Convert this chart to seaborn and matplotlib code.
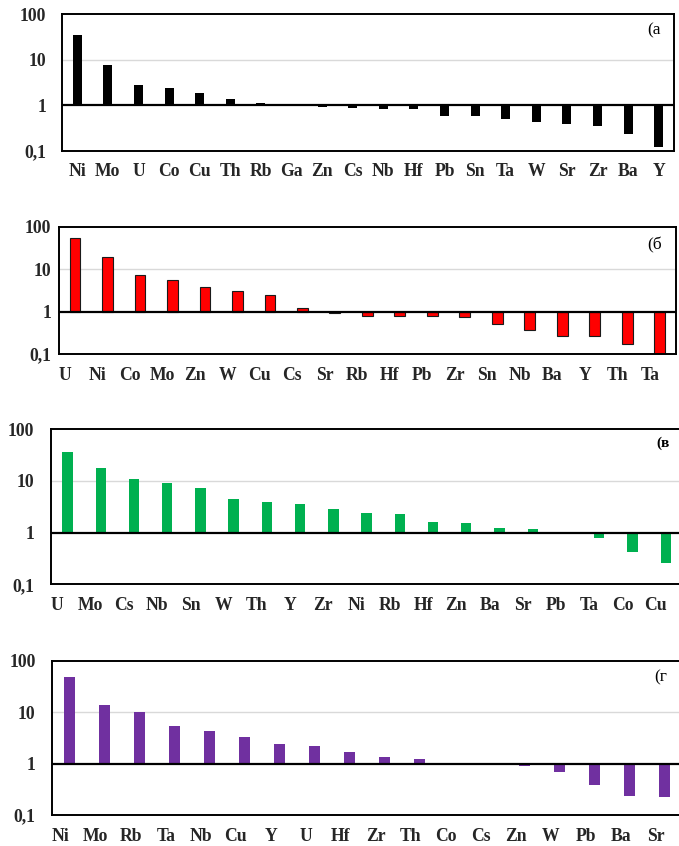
import numpy as np
import pandas as pd
import matplotlib
matplotlib.use("Agg")
import matplotlib.pyplot as plt
import matplotlib.transforms as mtrans
import seaborn as sns

# ---------------- data ----------------
a_elements = ["Ni", "Mo", "U", "Co", "Cu", "Th", "Rb", "Ga", "Zn", "Cs",
              "Nb", "Hf", "Pb", "Sn", "Ta", "W", "Sr", "Zr", "Ba", "Y"]
a_values = [35.3, 7.8, 2.75, 2.4, 1.85, 1.38, 1.11, 1.1, 0.92, 0.88,
            0.84, 0.84, 0.59, 0.58, 0.5, 0.44, 0.4, 0.36, 0.235, 0.12]

b_elements = ["U", "Ni", "Co", "Mo", "Zn", "W", "Cu", "Cs", "Sr", "Rb",
              "Hf", "Pb", "Zr", "Sn", "Nb", "Ba", "Y", "Th", "Ta"]
b_values = [53, 19.5, 7.4, 5.4, 3.7, 3.1, 2.5, 1.22, 0.95, 0.8,
            0.79, 0.79, 0.73, 0.5, 0.37, 0.27, 0.26, 0.17, 0.1]

c_elements = ["U", "Mo", "Cs", "Nb", "Sn", "W", "Th", "Y", "Zr", "Ni",
              "Rb", "Hf", "Zn", "Ba", "Sr", "Pb", "Ta", "Co", "Cu"]
c_values = [37, 17.9, 10.9, 9.0, 7.3, 4.4, 4.0, 3.6, 2.9, 2.35,
            2.3, 1.6, 1.57, 1.22, 1.19, 1.0, 0.8, 0.42, 0.255]

d_elements = ["Ni", "Mo", "Rb", "Ta", "Nb", "Cu", "Y", "U", "Hf", "Zr",
              "Th", "Co", "Cs", "Zn", "W", "Pb", "Ba", "Sr"]
d_values = [48.3, 13.5, 9.85, 5.3, 4.3, 3.3, 2.35, 2.2, 1.7, 1.37,
            1.21, 1.0, 0.93, 0.9, 0.68, 0.39, 0.23, 0.22]

panel_labels = ["(а", "(б", "(в", "(г"]
colors = ["#000000", "#FF0000", "#00B050", "#7030A0"]
y_tick_values = [0.1, 1, 10, 100]
y_tick_labels = ["0,1", "1", "10", "100"]

# ---------------- style ----------------
sns.set_theme(style="white")
plt.rcParams["font.family"] = ["Liberation Serif", "DejaVu Serif"]

W, H = 679, 846
fig = plt.figure(figsize=(W / 100, H / 100), dpi=100)

# pixel boxes: left, right, top, bottom
boxes = [
    (62.0, 674.0, 14.3, 151.0),
    (58.7, 676.0, 226.7, 354.0),
    (50.8, 682.4, 429.3, 584.3),
    (52.3, 682.3, 660.7, 815.0),
]
bar_widths = [0.30, 0.33, 0.31, 0.31]
ylab_pads = [11.5, 5.5, 12.0, 12.0]
xlab_shift_px = [0, -10, -10, -9]
label_pos = [(647, 30), (647, 245), (656, 443), (654, 677)]
label_weight = ["normal", "normal", "bold", "normal"]
label_size = [12.5, 12.5, 11.0, 12.5]

datasets = [
    (a_elements, a_values),
    (b_elements, b_values),
    (c_elements, c_values),
    (d_elements, d_values),
]

for i, ((cats, vals), (l, r, t, b)) in enumerate(zip(datasets, boxes)):
    ax = fig.add_axes([l / W, 1 - b / H, (r - l) / W, (b - t) / H])
    df = pd.DataFrame({"element": cats, "logv": np.log10(vals)})
    edge = "#1a1a1a" if i == 1 else colors[i]
    sns.barplot(data=df, x="element", y="logv", order=cats, color=colors[i],
                saturation=1, width=bar_widths[i], ax=ax,
                edgecolor=edge, linewidth=0.8 if i == 1 else 0, zorder=2)
    ax.set_xlim(-0.5, len(cats) - 0.5)
    ax.set_ylim(np.log10(0.1), np.log10(100))
    ax.set_yticks(np.log10(y_tick_values))
    ax.set_yticklabels(y_tick_labels)
    ax.set_xlabel("")
    ax.set_ylabel("")
    ax.axhline(np.log10(10), color="#D9D9D9", lw=1.0, zorder=1)
    ax.axhline(0, color="black", lw=1.6, zorder=3)
    for s in ax.spines.values():
        s.set_visible(True)
        s.set_color("black")
        s.set_linewidth(1.4)
    ax.tick_params(axis="both", length=0, labelsize=12.7)
    ax.tick_params(axis="x", pad=9)
    ax.tick_params(axis="y", pad=ylab_pads[i])
    for lab in ax.get_xticklabels() + ax.get_yticklabels():
        lab.set_fontweight("bold")
    if xlab_shift_px[i]:
        off = mtrans.ScaledTranslation(xlab_shift_px[i] / 100, 0, fig.dpi_scale_trans)
        for lab in ax.get_xticklabels():
            lab.set_transform(lab.get_transform() + off)
    lx, ly = label_pos[i]
    fig.text(lx / W, 1 - ly / H, panel_labels[i], ha="left", va="center",
             fontsize=label_size[i], fontweight=label_weight[i], color="black")

fig.savefig("out.png", dpi=100)
